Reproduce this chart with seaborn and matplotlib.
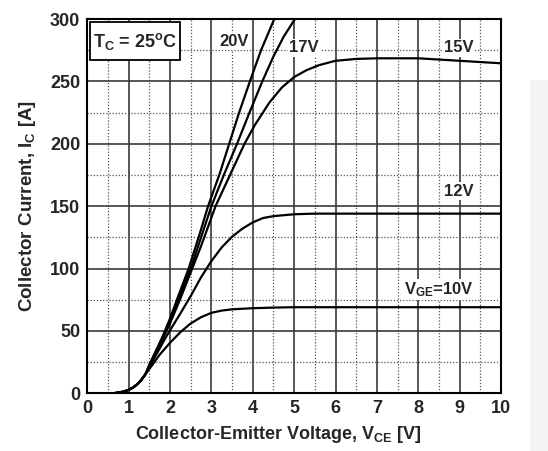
import numpy as np
import pandas as pd
import matplotlib
matplotlib.use('Agg')
import matplotlib.pyplot as plt
from matplotlib.patches import Rectangle
import seaborn as sns

# Output characteristics (V_CE [V], I_C [A])
low_v = [0.0, 0.6, 0.7, 0.8, 0.9, 1.0, 1.1, 1.2, 1.3, 1.4]
low_i = [0.0, 0.0, 0.3, 0.8, 1.6, 2.8, 4.5, 7.0, 10.5, 15.0]

vce_20 = [1.5, 1.6, 1.7, 1.8, 1.9, 2.0, 2.2, 2.45, 2.7, 2.92, 3.2, 3.43, 3.67, 3.93, 4.2, 4.52]
ic_20 = [23, 30, 37, 44, 52, 60, 78, 100, 126, 150, 176, 200, 225, 250, 275, 300]

vce_17 = [1.5, 1.6, 1.7, 1.8, 1.9, 2.0, 2.25, 2.5, 2.75, 3.0, 3.3, 3.62, 3.92, 4.23, 4.5, 4.75, 5.02]
ic_17 = [22, 29, 36, 43, 50, 57, 79, 100, 125, 150, 175, 200, 225, 250, 270, 286, 300]

vce_15 = [1.5, 1.6, 1.7, 1.8, 1.9, 2.0, 2.25, 2.5, 2.75, 3.1, 3.45, 3.8, 4.05, 4.4, 4.7,
          5.0, 5.3, 5.6, 6.0, 6.5, 7.0, 8.0, 8.5, 9.0, 9.5, 10.0]
ic_15 = [21.5, 28, 35, 42, 49, 56, 76, 97, 118, 150, 175, 200, 215, 233, 245,
         253.5, 259, 263, 266.5, 268, 268.5, 268.5, 267.5, 266.5, 265.5, 264.5]

vce_12 = [1.5, 1.6, 1.7, 1.8, 1.9, 2.0, 2.25, 2.5, 2.75, 3.0, 3.25, 3.5, 3.75, 4.0, 4.25,
          4.5, 5.0, 5.5, 10.0]
ic_12 = [20.5, 27, 33, 39, 45, 50.5, 64, 78, 93, 106, 117, 125.5, 132, 137, 140.5,
         142, 143.5, 144, 144]

vce_10 = [1.5, 1.6, 1.75, 2.0, 2.25, 2.5, 2.75, 3.0, 3.25, 3.5, 4.0, 4.5, 5.0, 10.0]
ic_10 = [19.5, 24, 31, 40.5, 49, 56, 61, 64.5, 66.3, 67.3, 68.2, 68.7, 69, 69]

vge_labels = ['20V', '17V', '15V', '12V', 'V$_{GE}$=10V']
label_x = [3.55, 5.24, 8.97, 8.97, 8.49]
label_y = [282, 277, 277, 162, 83]

curves = {'20V': (vce_20, ic_20), '17V': (vce_17, ic_17), '15V': (vce_15, ic_15),
          '12V': (vce_12, ic_12), '10V': (vce_10, ic_10)}

rows = []
for name, (vs, cs) in curves.items():
    for v, c in zip(low_v + vs, low_i + cs):
        rows.append({'vce': v, 'ic': c, 'vge': name})
df = pd.DataFrame(rows)

sns.set_style('white')
plt.rcParams['font.family'] = ['Liberation Sans', 'DejaVu Sans']
plt.rcParams['font.weight'] = 'bold'
plt.rcParams['mathtext.fontset'] = 'custom'
plt.rcParams['mathtext.rm'] = 'Liberation Sans:bold'
plt.rcParams['mathtext.bf'] = 'Liberation Sans:bold'
plt.rcParams['mathtext.default'] = 'bf'

fig = plt.figure(figsize=(5.48, 4.51), dpi=100)
fig.patches.append(Rectangle((530 / 548, 0), 18 / 548, 1 - 80 / 451, transform=fig.transFigure,
                             facecolor='#f4f5f7', edgecolor='none', zorder=0))
ax = fig.add_axes([87.3 / 548, 1 - 393.3 / 451, (501 - 87.3) / 548, (393.3 - 19) / 451])

sns.lineplot(data=df, x='vce', y='ic', hue='vge', palette=['black'] * 5, sort=False,
             estimator=None, legend=False, linewidth=1.6, ax=ax, zorder=3)

ax.set_xlim(0, 10)
ax.set_ylim(0, 300)
ax.set_xticks(np.arange(0, 11, 1))
ax.set_yticks(np.arange(0, 301, 50))
ax.set_xticks(np.arange(0.5, 10, 1), minor=True)
ax.set_yticks(np.arange(25, 300, 50), minor=True)
ax.grid(which='major', color='#3a3a3a', linewidth=1.2, linestyle='-')
ax.grid(which='minor', color='#555555', linewidth=0.9, linestyle=(0, (1, 1.5)))
ax.tick_params(which='both', length=0, labelsize=13, pad=5)
for lab in ax.get_xticklabels() + ax.get_yticklabels():
    lab.set_fontweight('bold')
for sp in ax.spines.values():
    sp.set_color('black')
    sp.set_linewidth(1.5)
    sp.set_zorder(5)

ax.set_xlabel('Collector-Emitter Voltage, V$_{CE}$ [V]', fontsize=13, fontweight='bold', labelpad=3)
ax.xaxis.set_label_coords(0.462, -0.082)
ax.set_ylabel('Collector Current, I$_C$ [A]', fontsize=13.5, fontweight='bold', labelpad=9)

for txt, lx, ly in zip(vge_labels, label_x, label_y):
    ax.text(lx, ly, txt, ha='center', va='center', fontsize=12, fontweight='bold', zorder=4,
            bbox=dict(facecolor='white', edgecolor='none', pad=1.0))

# T_C box
ax.add_patch(Rectangle((0.0065, 0.890), 0.2175, 0.102, transform=ax.transAxes,
                       facecolor='white', edgecolor='black', linewidth=1.3, zorder=6))
ax.text(0.1165, 0.9395, 'T$_C$ = 25$^o$C', transform=ax.transAxes, ha='center', va='center',
        fontsize=13, fontweight='bold', zorder=7)

fig.savefig('out.png', dpi=100)
